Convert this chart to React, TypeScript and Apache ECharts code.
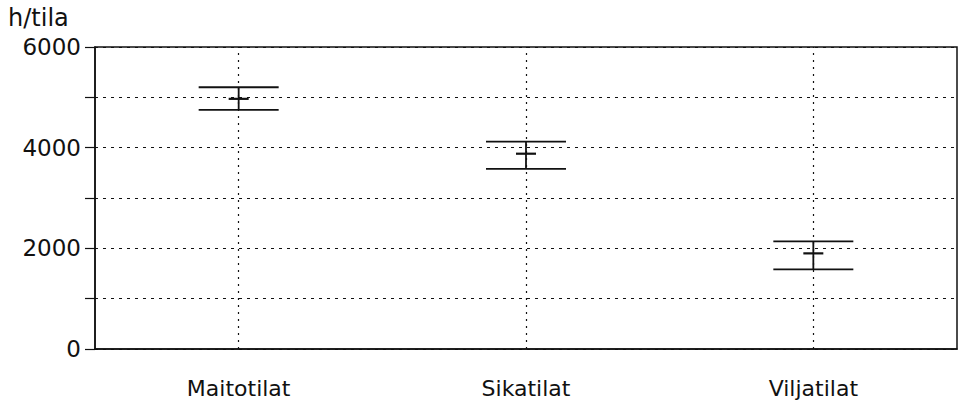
import React, { useEffect, useRef } from "react";
import * as echarts from "echarts";

const categories = ["Maitotilat", "Sikatilat", "Viljatilat"];
const upperValues = [5200, 4120, 2140];
const lowerValues = [4750, 3580, 1580];
const meanValues = [4970, 3880, 1900];
const yLabeledTicks = [0, 2000, 4000, 6000];
const yAxisTitle = "h/tila";

const FONT = "'DejaVu Sans', 'Noto Sans', sans-serif";
const INK = "#111";

export default function App() {
  const ref = useRef<HTMLDivElement>(null);
  useEffect(() => {
    if (!ref.current) return;
    const chart = echarts.init(ref.current, undefined, { renderer: "svg" });
    const data = categories.map((c, i) => [i, lowerValues[i], upperValues[i], meanValues[i]]);
    chart.setOption({
      animation: false,
      backgroundColor: "#fff",
      grid: {
        left: 95,
        right: 8,
        top: 47,
        bottom: 66,
        show: true,
        borderColor: INK,
        borderWidth: 1.5,
        backgroundColor: "transparent",
      },
      graphic: [
        {
          type: "text",
          left: 8,
          top: 6,
          style: { text: yAxisTitle, font: `24px ${FONT}`, fill: INK },
        },
      ],
      xAxis: {
        type: "category",
        data: categories,
        axisLine: { lineStyle: { color: INK, width: 1.5 } },
        axisTick: { alignWithLabel: true, length: 8, lineStyle: { color: INK, width: 1.2 } },
        axisLabel: { fontFamily: FONT, fontSize: 22, color: INK, margin: 28 },
        splitLine: { show: false },
      },
      yAxis: {
        type: "value",
        min: 0,
        max: 6000,
        interval: 1000,
        axisLine: { show: true, lineStyle: { color: INK, width: 1.5 } },
        axisTick: { show: true, length: 10, lineStyle: { color: INK, width: 1.2 } },
        axisLabel: {
          fontFamily: FONT,
          fontSize: 23,
          color: INK,
          margin: 14,
          formatter: (v: number) => (yLabeledTicks.includes(v) ? String(v) : ""),
        },
        splitLine: { show: true, lineStyle: { color: INK, type: [3, 5], width: 1 } },
      },
      series: [
        {
          type: "custom",
          data,
          renderItem: (params: any, api: any) => {
            const x = api.coord([api.value(0), 0])[0];
            const lo = api.coord([api.value(0), api.value(1)])[1];
            const hi = api.coord([api.value(0), api.value(2)])[1];
            const mean = api.coord([api.value(0), api.value(3)])[1];
            const capHalf = 40;
            const meanHalf = 10;
            const style = { stroke: INK, lineWidth: 1.8 };
            return {
              type: "group",
              children: [
                { type: "line", shape: { x1: x, y1: hi, x2: x, y2: lo }, style },
                { type: "line", shape: { x1: x - capHalf, y1: hi, x2: x + capHalf, y2: hi }, style },
                { type: "line", shape: { x1: x - capHalf, y1: lo, x2: x + capHalf, y2: lo }, style },
                { type: "line", shape: { x1: x - meanHalf, y1: mean, x2: x + meanHalf, y2: mean }, style: { stroke: INK, lineWidth: 2.2 } },
              ],
            };
          },
          markLine: {
            silent: true,
            symbol: "none",
            label: { show: false },
            lineStyle: { color: INK, type: [2, 5], width: 1.2 },
            data: categories.map((c) => ({ xAxis: c })),
          },
          z: 5,
        },
      ],
    });
    return () => chart.dispose();
  }, []);
  return (
    <div
      ref={ref}
      style={{ position: "fixed", left: 0, top: 0, width: 965, height: 415, background: "#fff" }}
    />
  );
}
